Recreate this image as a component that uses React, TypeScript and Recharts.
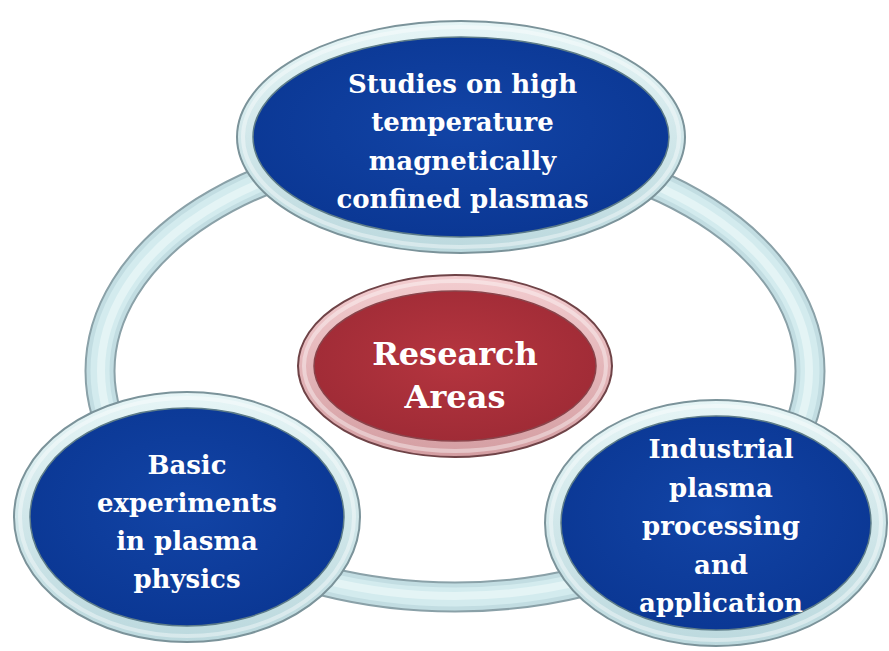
import React from 'react';
import { ScatterChart, Scatter, XAxis, YAxis } from 'recharts';

const W = 889;
const H = 651;

// nodes of the diagram (axes are 1:1 with the picture)
const nodeNames = ['studies', 'center', 'basic', 'industrial'];
const nodeLabels = [
  ['Studies on high', 'temperature', 'magnetically', 'confined plasmas'],
  ['Research', 'Areas'],
  ['Basic', 'experiments', 'in plasma', 'physics'],
  ['Industrial', 'plasma', 'processing', 'and', 'application'],
];
const nodeX = [461, 455, 187, 716];
const nodeY = [137, 366, 517, 523];
const ringPoint = [{ x: 455, y: 371 }];

// sizes / styles
const nodeRx = [224, 157, 173, 171];
const nodeRy = [116, 91, 125, 123];
const labelDx = [1.5, 0, 0, 5];
const labelDy = [13.5, 20.5, 13.5, 12];
const fontSizes = [26, 32, 26, 26];
const lineHeights = [38.5, 43, 38, 38.5];
const RING = { rx: 355, ry: 226 };

const themes: Record<string, any> = {
  blue: { bandTop: '#e6f5f6', bandBottom: '#bcd9de', edge: '#7b939a', fillIn: '#1244a6', fillOut: '#0a3692', inner: '#5d7c88' },
  red: { bandTop: '#f3cdd0', bandBottom: '#d49ea2', edge: '#6f4347', fillIn: '#b5353f', fillOut: '#9d2a35', inner: '#8a434a' },
};

const nodes = nodeNames.map((name, i) => ({
  name,
  idx: i,
  x: nodeX[i],
  y: nodeY[i],
  theme: name === 'center' ? 'red' : 'blue',
}));

const NodeShape = (props: any) => {
  const { cx, cy, payload } = props;
  const i = payload.idx;
  const t = themes[payload.theme];
  const rx = nodeRx[i];
  const ry = nodeRy[i];
  const band = 16;
  const lines = nodeLabels[i];
  const lh = lineHeights[i];
  const fs = fontSizes[i];
  const bandId = `band-${payload.name}`;
  const fillId = `fill-${payload.name}`;
  return (
    <g>
      <defs>
        <linearGradient id={bandId} x1="0" y1="0" x2="0" y2="1">
          <stop offset="0%" stopColor={t.bandTop} />
          <stop offset="100%" stopColor={t.bandBottom} />
        </linearGradient>
        <radialGradient id={fillId} cx="50%" cy="45%" r="62%">
          <stop offset="0%" stopColor={t.fillIn} />
          <stop offset="100%" stopColor={t.fillOut} />
        </radialGradient>
      </defs>
      <ellipse cx={cx} cy={cy} rx={rx} ry={ry} fill={`url(#${bandId})`} stroke={t.edge} strokeWidth={2} />
      <ellipse cx={cx} cy={cy} rx={rx - 6} ry={ry - 6} fill="none" stroke="#ffffff" strokeOpacity={0.4} strokeWidth={4} />
      <ellipse cx={cx} cy={cy} rx={rx - band} ry={ry - band} fill={`url(#${fillId})`} stroke={t.inner} strokeWidth={1.5} />
      {lines.map((line, k) => (
        <text
          key={k}
          x={cx + labelDx[i]}
          y={cy + labelDy[i] + (k - (lines.length - 1) / 2) * lh}
          textAnchor="middle"
          fill="#ffffff"
          fontFamily="'DejaVu Serif', serif"
          fontWeight="bold"
          fontSize={fs}
        >
          {line}
        </text>
      ))}
    </g>
  );
};

const RingShape = (props: any) => {
  const { cx, cy } = props;
  const { rx, ry } = RING;
  return (
    <g fill="none">
      <ellipse cx={cx} cy={cy} rx={rx} ry={ry} stroke="#8aa1a8" strokeWidth={31} />
      <ellipse cx={cx} cy={cy} rx={rx} ry={ry} stroke="#c2dde2" strokeWidth={27} />
      <ellipse cx={cx} cy={cy} rx={rx} ry={ry} stroke="#d3ebee" strokeWidth={19} />
      <ellipse cx={cx} cy={cy} rx={rx - 1} ry={ry - 1} stroke="#e4f4f5" strokeWidth={8} />
    </g>
  );
};

export default function App() {
  return (
    <div style={{ position: 'absolute', left: 0, top: 0, width: W, height: H, background: '#ffffff' }}>
      <ScatterChart width={W} height={H} margin={{ top: 0, right: 0, bottom: 0, left: 0 }}>
        <XAxis type="number" dataKey="x" domain={[0, W]} allowDataOverflow hide />
        <YAxis type="number" dataKey="y" domain={[0, H]} allowDataOverflow reversed hide />
        <Scatter data={ringPoint} shape={(p: any) => <RingShape {...p} />} isAnimationActive={false} />
        <Scatter data={nodes} shape={(p: any) => <NodeShape {...p} />} isAnimationActive={false} />
      </ScatterChart>
    </div>
  );
}
